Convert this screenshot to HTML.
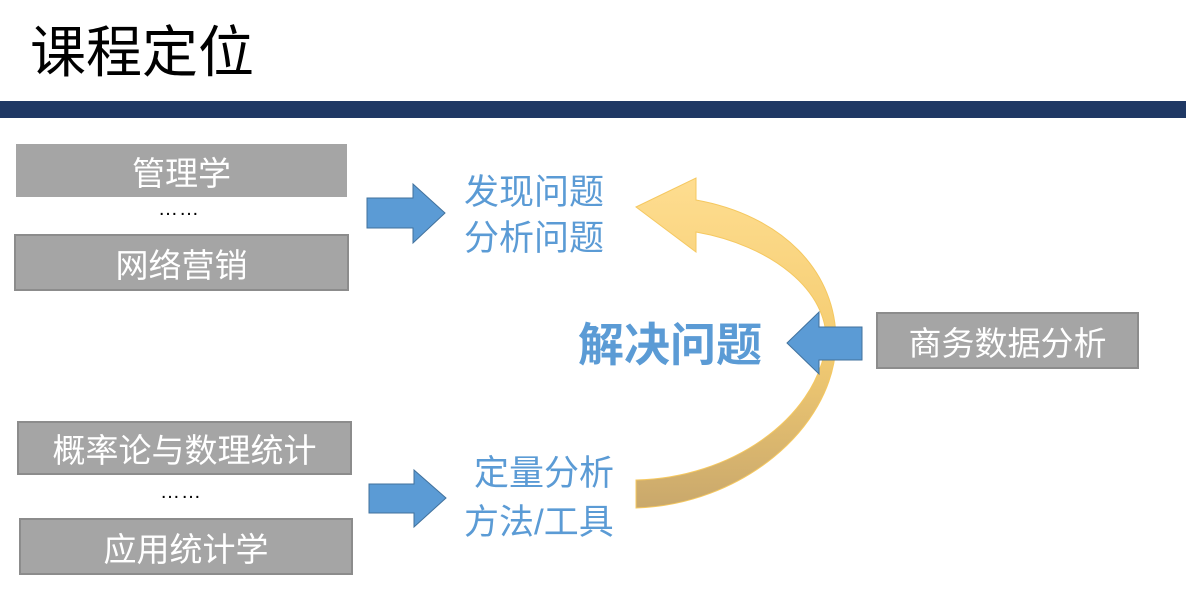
<!DOCTYPE html>
<html><head><meta charset="utf-8"><style>
body{margin:0;width:1186px;height:590px;background:#fff;position:relative;overflow:hidden;font-family:"Liberation Sans","Noto Sans CJK SC",sans-serif}
.a{position:absolute}
.box{position:absolute;background:#a5a5a5;color:#fff;font-size:33px;text-align:center;box-sizing:border-box;border:2px solid #8c8c8c;display:flex;align-items:center;justify-content:center}
.b{position:absolute;color:#5b9bd5;font-size:35px;line-height:46px;white-space:nowrap}
.d{position:absolute;font-size:20px;color:#000;letter-spacing:1px}
</style></head><body>
<div class="a" style="left:30px;top:18px;font-size:56px;line-height:70px;color:#000">课程定位</div>
<div class="a" style="left:0;top:101px;width:1186px;height:17px;background:#1f3864"></div>
<div class="box" style="left:16px;top:144px;width:331px;height:53px;border-color:#a5a5a5">管理学</div>
<div class="d" style="left:158px;top:198px">……</div>
<div class="box" style="left:14px;top:234px;width:335px;height:57px">网络营销</div>
<div class="box" style="left:17px;top:421px;width:335px;height:54px">概率论与数理统计</div>
<div class="d" style="left:160px;top:481px">……</div>
<div class="box" style="left:19px;top:518px;width:334px;height:57px">应用统计学</div>
<div class="box" style="left:876px;top:312px;width:263px;height:57px">商务数据分析</div>
<div class="b" style="left:464px;top:170px">发现问题<br>分析问题</div>
<div class="b" style="left:474px;top:451px">定量分析</div>
<div class="b" style="left:464px;top:500px">方法/工具</div>
<div class="b" style="left:578px;top:317px;font-size:46px;line-height:56px;font-weight:bold">解决问题</div>
<svg class="a" style="left:0;top:0" width="1186" height="590">
<defs><linearGradient id="g" x1="0" y1="0" x2="0" y2="1"><stop offset="0" stop-color="#fedd90"/><stop offset="0.5" stop-color="#f5cd72"/><stop offset="1" stop-color="#c9a86c"/></linearGradient></defs>
<path d="M636,207 L696,178 L696,200 C780,215 838,270 836,345 C832,430 740,505 636,508 L636,480 C730,478 815,420 826,345 C830,290 770,245 696,232 L696,252 Z" fill="url(#g)" stroke="#f5c860" stroke-width="1"/>
<path d="M367,198 L413,198 L413,184 L445,213 L413,243 L413,228 L367,228 Z" fill="#5b9bd5" stroke="#41719c"/>
<path d="M369,484 L414,484 L414,470 L446,498 L414,527 L414,513 L369,513 Z" fill="#5b9bd5" stroke="#41719c"/>
<path d="M862,327 L819,327 L819,312 L787,343 L819,374 L819,360 L862,360 Z" fill="#5b9bd5" stroke="#41719c"/>
</svg>
</body></html>
